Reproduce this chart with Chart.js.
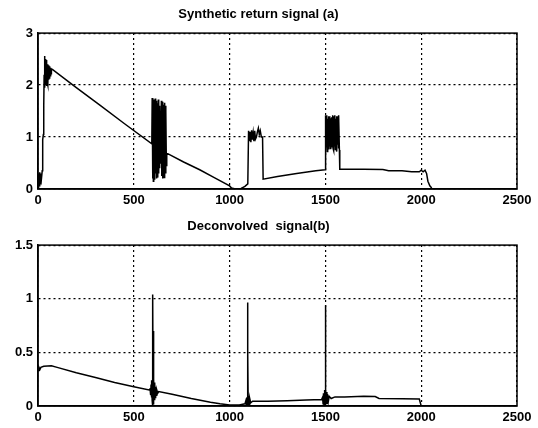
<!DOCTYPE html>
<html>
<head>
<meta charset="utf-8">
<script src="https://cdn.jsdelivr.net/npm/chart.js@4/dist/chart.umd.min.js"></script>
<style>
  body { margin: 0; background: #fff; }
  canvas { position: absolute; left: 0; }
  #chartA { top: 0; }
  #chartB { top: 212px; }
</style>
</head>
<body>
<canvas id="chartA" width="538" height="212"></canvas>
<canvas id="chartB" width="538" height="216"></canvas>
<script>
// 축 눈금
const xTicks = [0, 500, 1000, 1500, 2000, 2500];
const xTickLabels = ['0', '500', '1000', '1500', '2000', '2500'];
const yTicksA = ['0', '1', '2', '3'];
const yTicksB = ['0', '0.5', '1', '1.5'];

// (a) 합성 반환 신호 - 그림에서 읽은 값
const sigAx = [
  0, 2, 4, 6, 8, 10, 12, 15, 18, 22, 24, 25, 28, 30, 32, 34, 36, 38, 40, 42, 44, 46, 48, 50, 52, 54, 56, 58, 60, 62, 64, 66, 68, 70, 75,
  200, 323, 450, 594,
  596, 598, 600, 602, 604, 606, 608, 610, 612, 614, 616, 618, 620, 622, 624, 626, 628, 630, 632, 634, 636, 638, 640,
  644, 646, 648, 650, 652, 654, 656, 658, 660, 662, 664, 666, 668, 670, 672,
  760, 844, 920, 1000, 1010, 1030, 1060, 1080, 1095,
  1099, 1103, 1107, 1111, 1115, 1119, 1123, 1127, 1131, 1135, 1140, 1145, 1150, 1155, 1160, 1166, 1172, 1175,
  1250, 1350, 1450, 1498,
  1500, 1502, 1504, 1506, 1508, 1510, 1512, 1514, 1516, 1518, 1520, 1522, 1524, 1526, 1528, 1530, 1532, 1534, 1536,
  1538, 1540, 1542, 1544, 1546, 1548, 1550, 1552, 1554, 1556, 1558, 1560, 1562, 1564, 1566, 1568, 1570, 1573, 1575,
  1700, 1800, 1830, 1900, 1950, 1990, 2000, 2010, 2020, 2028, 2035, 2045, 2055
];
const sigAy = [
  0.05, 0.3, 0.02, 0.28, 0.05, 0.32, 0.1, 0.3, 0.2, 0.35, 0.6, 0.95, 1.05, 1.6, 2.2, 2.56, 1.95, 2.5, 2.0, 2.48, 1.98, 2.42, 2.05, 2.4, 2.0, 2.38, 2.1, 2.36, 2.12, 2.34, 2.18, 2.33, 2.22, 2.31, 2.3,
  1.95, 1.615, 1.26, 0.87,
  1.75, 0.2, 1.7, 0.15, 1.72, 0.25, 1.68, 0.18, 1.74, 0.3, 1.6, 0.2, 1.7, 0.35, 1.65, 0.22, 1.72, 0.3, 1.6, 0.4, 1.55, 0.5, 0.8,
  1.7, 0.25, 1.65, 0.2, 1.68, 0.3, 1.62, 0.22, 1.66, 0.35, 1.6, 0.3, 1.5, 0.45, 0.69,
  0.52, 0.37, 0.22, 0.06, 0.02, 0.0, 0.01, 0.05, 0.1,
  1.12, 0.92, 1.1, 0.9, 1.13, 0.95, 1.08, 0.92, 1.12, 0.96, 1.0, 1.1, 1.17, 1.05, 1.12, 1.0, 1.0, 0.19,
  0.24, 0.3, 0.35, 0.37,
  1.42, 0.75, 1.38, 0.8, 1.42, 0.72, 1.35, 0.85, 1.4, 0.76, 1.3, 0.82, 1.4, 0.78, 1.36, 0.9, 1.38, 0.8, 0.95,
  1.42, 0.78, 1.4, 0.74, 1.38, 0.82, 1.42, 0.76, 1.35, 0.8, 1.4, 0.72, 1.36, 0.85, 1.4, 0.78, 1.42, 0.75, 0.38,
  0.38, 0.375, 0.35, 0.35, 0.33, 0.33, 0.36, 0.33, 0.36, 0.3, 0.15, 0.06, 0.02
];

// (b) 디컨볼루션 신호
const sigBx = [
  0, 5, 10, 15, 30, 70, 100, 200, 300, 400, 500, 580,
  585, 588, 590, 592, 594, 596, 597, 598, 599, 600, 601, 602, 603, 605, 607, 609, 611, 614, 617, 620, 625, 630,
  700, 800, 900, 950, 1000, 1050, 1080,
  1085, 1088, 1090, 1092, 1093, 1094, 1095, 1096, 1097, 1099, 1102, 1105, 1110, 1120,
  1200, 1300, 1400, 1480,
  1485, 1488, 1490, 1493, 1496, 1498, 1499, 1500, 1501, 1502, 1503, 1505, 1508, 1511, 1515, 1520, 1530,
  1550, 1600, 1700, 1760, 1780, 1900, 1990, 2000
];
const sigBy = [
  0.33, 0.36, 0.34, 0.36, 0.37, 0.375, 0.36, 0.31, 0.265, 0.22, 0.18, 0.15,
  0.16, 0.1, 0.2, 0.08, 0.24, 0.05, 0.28, 0.0, 0.8, 1.04, 0.02, 0.7, 0.05, 0.25, 0.06, 0.22, 0.08, 0.18, 0.1, 0.15, 0.12, 0.135,
  0.11, 0.07, 0.035, 0.02, 0.01, 0.01, 0.02,
  0.05, 0.0, 0.08, 0.0, 0.7, 0.965, 0.0, 0.5, 0.02, 0.09, 0.01, 0.07, 0.03, 0.045,
  0.045, 0.05, 0.055, 0.06,
  0.08, 0.02, 0.12, 0.0, 0.15, 0.0, 0.75, 0.94, 0.0, 0.6, 0.02, 0.13, 0.02, 0.11, 0.04, 0.09, 0.07,
  0.085, 0.085, 0.09, 0.088, 0.07, 0.068, 0.065, 0.0
];

// 축 테두리 (MATLAB 상자)
const boxPlugin = {
  id: 'box',
  afterDraw(chart) {
    const a = chart.chartArea;
    const ctx = chart.ctx;
    ctx.save();
    ctx.strokeStyle = '#000';
    ctx.lineWidth = 1.5;
    ctx.strokeRect(a.left, a.top, a.right - a.left, a.bottom - a.top);
    ctx.restore();
  }
};

function makeChart(id, xs, ys, title, yMax, yStep, yLabels, xHeight) {
  const points = xs.map((x, i) => ({ x: x, y: ys[i] }));
  return new Chart(document.getElementById(id), {
    type: 'line',
    data: {
      datasets: [{
        data: points,
        borderColor: '#000',
        borderWidth: 1.5,
        pointRadius: 0,
        tension: 0,
        fill: false
      }]
    },
    options: {
      responsive: false,
      animation: false,
      devicePixelRatio: 1,
      layout: { padding: { left: 0, right: 21, top: 0, bottom: 0 } },
      plugins: {
        legend: { display: false },
        tooltip: { enabled: false },
        title: {
          display: true,
          text: title,
          color: '#000',
          font: { family: 'Liberation Sans', size: 13, weight: 'bold', lineHeight: 1.2 },
          padding: { top: 7, bottom: 10.5 }
        }
      },
      scales: {
        x: {
          type: 'linear',
          min: 0,
          max: 2500,
          afterBuildTicks: s => { s.ticks = xTicks.map(v => ({ value: v })); },
          afterFit: s => { s.height = xHeight; },
          grid: { color: '#000', lineWidth: 1.2, drawTicks: false },
          border: { display: true, color: '#000', width: 1.5, dash: [2, 3] },
          ticks: {
            color: '#000',
            padding: 4,
            maxRotation: 0,
            font: { family: 'Liberation Sans', size: 13, weight: 'bold' },
            callback: (v, i) => xTickLabels[i]
          }
        },
        y: {
          min: 0,
          max: yMax,
          ticks: {
            stepSize: yStep,
            color: '#000',
            padding: 5,
            font: { family: 'Liberation Sans', size: 13, weight: 'bold' },
            callback: (v, i) => yLabels[i]
          },
          afterFit: s => { s.width = 38; },
          grid: { color: '#000', lineWidth: 1.2, drawTicks: false },
          border: { display: true, color: '#000', width: 1.5, dash: [2, 3] }
        }
      }
    },
    plugins: [boxPlugin]
  });
}

makeChart('chartA', sigAx, sigAy, 'Synthetic return signal (a)', 3, 1, yTicksA, 23);
makeChart('chartB', sigBx, sigBy, 'Deconvolved  signal(b)', 1.5, 0.5, yTicksB, 22);
</script>
</body>
</html>
